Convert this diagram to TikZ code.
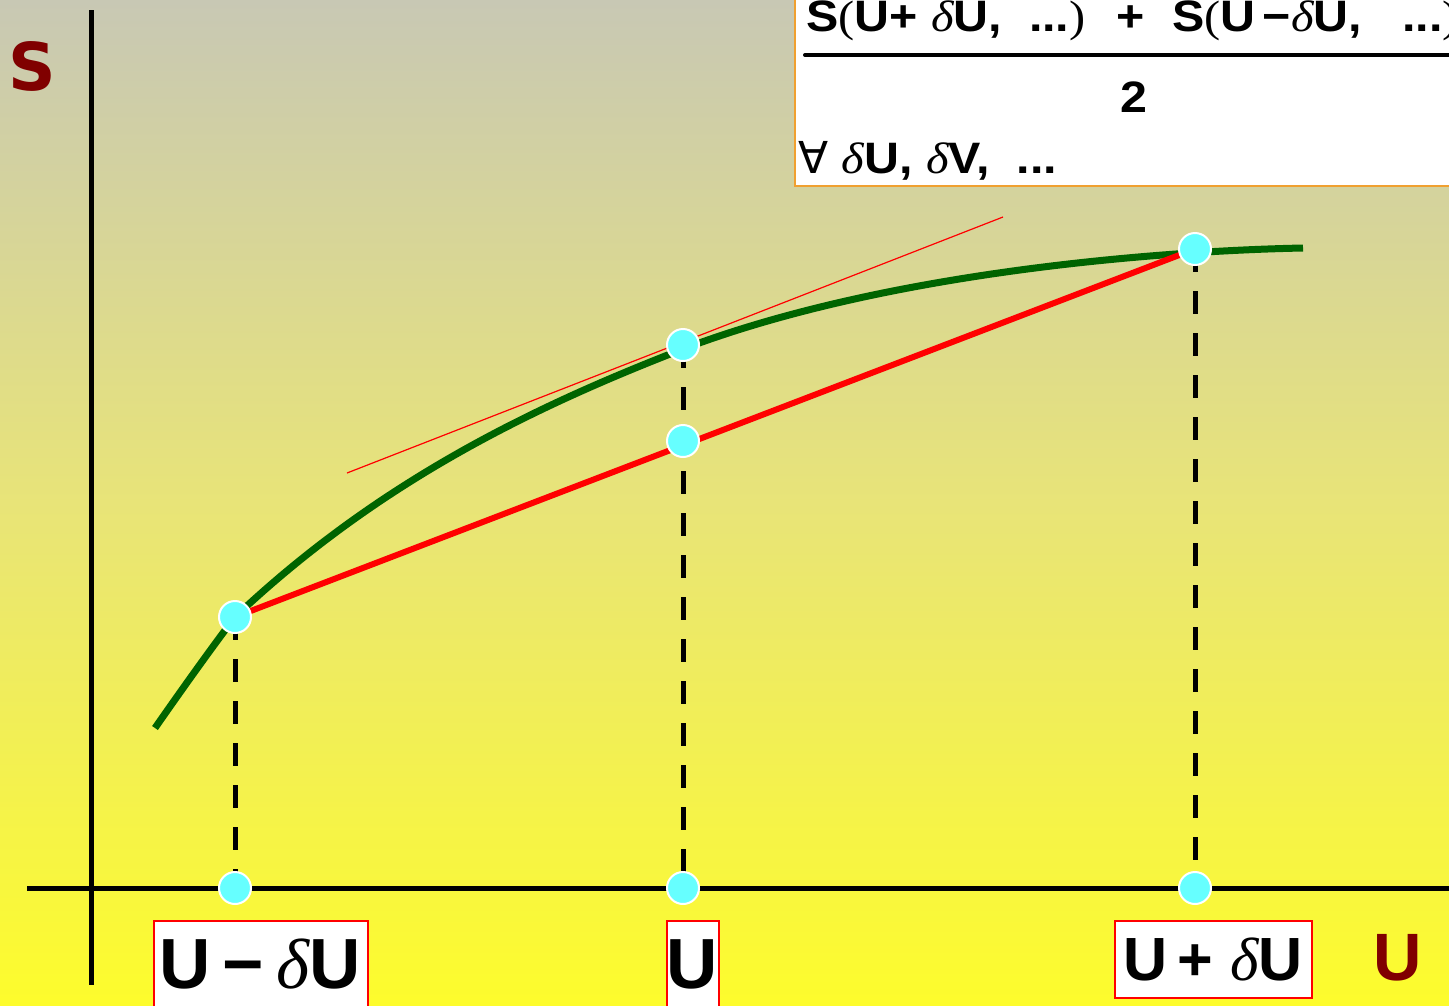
\documentclass[tikz,border=0pt]{standalone}
\usepackage{fontspec}
\setmainfont{Liberation Sans}
\newfontfamily\serf{Liberation Serif}
\newfontfamily\dvs{DejaVu Sans}
\newfontfamily\wsans{Liberation Sans}[FakeStretch=1.1]
\newfontfamily\wserf{Liberation Serif}[FakeStretch=1.1]
\newfontfamily\wdvs{DejaVu Sans}[FakeStretch=1.0]
\newcommand{\dlt}{{\serf\mdseries\itshape δ}}
\newcommand{\wdlt}{{\wserf\mdseries\itshape δ}}
\newcommand{\prn}[1]{{\wserf\mdseries #1}}
\definecolor{bgtop}{RGB}{200,200,180}
\definecolor{bgmid}{RGB}{232,228,120}
\definecolor{bgbot}{RGB}{253,252,44}
\definecolor{cyandot}{RGB}{102,255,255}
\definecolor{darkred}{RGB}{128,0,0}
\definecolor{curvegreen}{RGB}{0,100,0}
\definecolor{boxorange}{RGB}{240,160,48}
\tikzset{
  dot/.style={circle, fill=cyandot, draw=white, line width=2pt, minimum size=32pt, inner sep=0pt},
  dashline/.style={line width=5pt, dash pattern=on 23pt off 19pt},
  axisline/.style={line width=5pt},
  lblbox/.style={draw=red, line width=2pt, fill=white, inner sep=0pt},
  lbltext/.style={font=\fontsize{71}{80}\selectfont\bfseries, inner sep=0pt, anchor=base},
  lbltextsmall/.style={font=\fontsize{61}{70}\selectfont\bfseries, inner sep=0pt, anchor=base},
  frmtext/.style={font=\wsans\fontsize{44}{50}\selectfont\bfseries, inner sep=0pt},
}
\begin{document}
\begin{tikzpicture}[x=1pt,y=-1pt]
\useasboundingbox (0,0) rectangle (1449,1005);
\clip (0,0) rectangle (1449,1005);
\shade[top color=bgtop, bottom color=bgbot, middle color=bgmid] (0,0) rectangle (1449,1005);
% axes
\draw[axisline] (91,10) -- (91,985);
\draw[axisline] (27,888) -- (1460,888);
% points
\coordinate (c1) at (235,617);
\coordinate (c2) at (683,345);
\coordinate (c3) at (683,441);
\coordinate (c4) at (1195,249);
\coordinate (a1) at (235,888);
\coordinate (a2) at (683,888);
\coordinate (a3) at (1195,888);
\coordinate (g0) at (155,728);
\coordinate (gm) at (683,349);
\coordinate (g9) at (1303,248);
% dashed verticals
\draw[dashline] (c1) -- (a1);
\draw[dashline] (c2) -- (a2);
\draw[dashline] (c4) -- (a3);
% tangent
\coordinate (t1) at (347,473);
\coordinate (t2) at (1003,217);
\draw[red, line width=1.2pt] (t1) -- (t2);
% curve
\draw[curvegreen, line width=7pt] (g0) .. controls (185,685) and (213,646) .. (c1)
  .. controls (380,480) and (536,406) .. (gm)
  .. controls (883,273) and (1153,251) .. (g9);
% chord
\draw[red, line width=6pt] (c1) -- (c4);
% dots
\node[dot] (p1) at (c1) {};
\node[dot] (p2) at (c2) {};
\node[dot] (p3) at (c3) {};
\node[dot] (p4) at (c4) {};
\node[dot] (q1) at (a1) {};
\node[dot] (q2) at (a2) {};
\node[dot] (q3) at (a3) {};
% axis labels
\node[text=darkred, font=\dvs\fontsize{66}{70}\selectfont\bfseries, inner sep=0pt, anchor=base] (S) at (32,90) {S};
\node[text=darkred, font=\fontsize{67}{70}\selectfont\bfseries, inner sep=0pt, anchor=base] (Ulab) at (1398,980) {U};
% bottom labels
\node[lblbox, minimum width=214pt, minimum height=100pt, anchor=north west] (b1) at (153,920) {};
\node[lbltext] (l1) at (260,988) {U\,−\,\dlt U};
\node[lblbox, minimum width=52pt, minimum height=100pt, anchor=north west] (b2) at (666,920) {};
\node[lbltext] (l2) at (692,988) {U};
\node[lblbox, minimum width=197pt, minimum height=77pt, anchor=north west] (b3) at (1114,920) {};
\node[lbltextsmall] (l3) at (1213,980) {U\,+ \dlt U};
% formula box
\draw[draw=boxorange, fill=white, line width=2pt] (795,-10) rectangle (1460,186);
\draw[line width=4pt, line cap=round] (805,55) -- (1460,55);
\node[frmtext, anchor=base west] (num) at (806,31) {S\prn{(}U+ \wdlt U,~ ...\prn{)}~ +~ S\prn{(}U\,−\wdlt U,~~ ...\prn{)}};
\node[frmtext, anchor=base] (two) at (1134,112) {2};
\node[frmtext, anchor=base west] (all) at (798,173) {{\wdvs\mdseries ∀} \wdlt U, \wdlt V,~ ...};
\end{tikzpicture}
\end{document}
